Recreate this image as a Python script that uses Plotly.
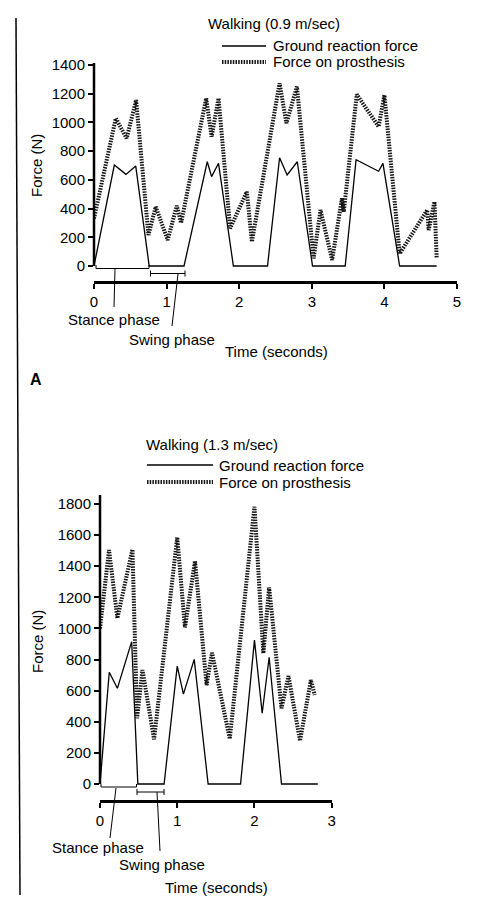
import plotly.graph_objects as go

W, H = 477, 898

# ---------------- data ----------------
# Panel A: walking 0.9 m/sec
top_grf_t = [0, 0.28, 0.44, 0.575, 0.76, 1.24, 1.56, 1.62, 1.715, 1.92, 2.39, 2.556, 2.66, 2.80, 3.01, 3.46, 3.61, 3.92, 3.98, 4.21, 4.72]
top_grf_f = [0, 703, 638, 696, 0, 0, 726, 622, 715, 0, 0, 754, 634, 726, 0, 0, 740, 660, 715, 0, 0]

top_pro_t = [0, 0.30, 0.45, 0.58, 0.75, 0.85, 1.015, 1.14, 1.20, 1.22, 1.545, 1.62, 1.715, 1.875, 2.105, 2.175,
             2.556, 2.65, 2.795, 3.025, 3.12, 3.28, 3.415, 3.44, 3.62, 3.92, 4.0, 4.21, 4.59, 4.61, 4.69, 4.72]
top_pro_f = [330, 1028, 889, 1156, 216, 413, 181, 420, 300, 350, 1168, 900, 1168, 262, 517, 169,
             1272, 994, 1249, 53, 390, 42, 471, 378, 1195, 970, 1190, 86, 390, 250, 448, 53]

# Panel B: walking 1.3 m/sec
bot_grf_t = [0, 0.12, 0.225, 0.41, 0.49, 0.83, 1.0, 1.08, 1.22, 1.40, 1.82, 2.0, 2.10, 2.19, 2.35, 2.82]
bot_grf_f = [0, 718, 615, 915, 0, 0, 758, 578, 801, 0, 0, 925, 455, 815, 0, 0]

bot_pro_t = [0, 0.117, 0.225, 0.42, 0.48, 0.55, 0.70, 1.0, 1.10, 1.23, 1.38, 1.45, 1.68, 2.0, 2.115, 2.19,
             2.35, 2.44, 2.59, 2.73, 2.78]
bot_pro_f = [1000, 1504, 1066, 1508, 423, 733, 287, 1586, 1007, 1433, 636, 844, 290, 1782, 840, 1264,
             487, 694, 278, 668, 572]

top_yticks = [0, 200, 400, 600, 800, 1000, 1200, 1400]
bot_yticks = [0, 200, 400, 600, 800, 1000, 1200, 1400, 1600, 1800]
top_xticks = [0, 1, 2, 3, 4, 5]
bot_xticks = [0, 1, 2, 3]

# ---------------- helpers ----------------
def px(x):
    return x / W

def py(y):
    return 1 - y / H

FONT = "Liberation Sans, Arial, Helvetica, sans-serif"
SOLID = dict(color="black", width=1.3)
DOTTED = dict(color="#151515", width=4, dash="1.5px,1.2px")

fig = go.Figure()
fig.add_trace(go.Scatter(x=top_grf_t, y=top_grf_f, mode="lines", line=SOLID, xaxis="x", yaxis="y", showlegend=False))
fig.add_trace(go.Scatter(x=top_pro_t, y=top_pro_f, mode="lines", line=DOTTED, xaxis="x", yaxis="y", showlegend=False))
fig.add_trace(go.Scatter(x=bot_grf_t, y=bot_grf_f, mode="lines", line=SOLID, xaxis="x2", yaxis="y2", showlegend=False))
fig.add_trace(go.Scatter(x=bot_pro_t, y=bot_pro_f, mode="lines", line=DOTTED, xaxis="x2", yaxis="y2", showlegend=False))

axis_common = dict(showgrid=False, zeroline=False, ticks="outside", ticklen=5, tickwidth=1.5, automargin=False,
                   tickcolor="black", tickfont=dict(family=FONT, size=15, color="black"))

# top panel: 0 N at py 266, 1400 at py 65, x-axis line at py 281
fig.update_layout(
    xaxis=dict(domain=[px(94), px(457)], range=[0, 5], tickvals=top_xticks, showline=True, linewidth=3,
               linecolor="black", anchor="y", **axis_common),
    yaxis=dict(domain=[py(281), py(60)], range=[-104.5, 1434.5], tickvals=top_yticks, showline=False,
               anchor="x", **axis_common),
    xaxis2=dict(domain=[px(100), px(331.7)], range=[0, 3], tickvals=bot_xticks, showline=True, linewidth=3,
                linecolor="black", anchor="y2", **axis_common),
    yaxis2=dict(domain=[py(800), py(492)], range=[-102.8, 1877], tickvals=bot_yticks, showline=False,
                anchor="x2", **axis_common),
)

shapes = []
def seg(x0, y0, x1, y1, w=1.0, dash=None, color="black"):
    ln = dict(color=color, width=w)
    if dash:
        ln["dash"] = dash
    shapes.append(dict(type="line", xref="paper", yref="paper", x0=px(x0), y0=py(y0), x1=px(x1), y1=py(y1), line=ln))

# page border line at left
seg(16, 18, 20, 895, w=1.5)
# y-axis lines (stop at 0 level)
seg(94, 266, 94, 63, w=2.5)
seg(100, 784, 100, 495, w=2.5)

# legends
seg(222, 46, 266, 46, w=1.3)
seg(222, 62, 266, 62, w=4, dash="1.5px,1.2px", color="#151515")
seg(147, 465, 213, 465, w=1.3)
seg(147, 482, 213, 482, w=4, dash="1.5px,1.2px", color="#151515")

# phase brackets (top)
seg(96, 268.5, 149, 268.5, w=1)
seg(96, 265, 96, 268.5, w=1)
seg(149, 265, 149, 268.5, w=1)
seg(150.5, 273.5, 185, 273.5, w=1)
seg(150.5, 270.5, 150.5, 276.5, w=1)
seg(185, 270.5, 185, 276.5, w=1)
seg(115, 269, 114, 307, w=1)
seg(178, 274, 172, 326, w=1)
# phase brackets (bottom)
seg(101, 787, 136.5, 787, w=1)
seg(101, 784, 101, 787, w=1)
seg(136.5, 784, 136.5, 787, w=1)
seg(137, 792, 164, 792, w=1)
seg(137, 789, 137, 795, w=1)
seg(164, 789, 164, 795, w=1)
seg(116, 788, 110, 838, w=1)
seg(157, 792, 160, 851, w=1)

annots = []
def txt(x, y, s, size=15, xanchor="center", angle=0, bold=False):
    annots.append(dict(x=px(x), y=py(y), xref="paper", yref="paper", text=("<b>%s</b>" % s) if bold else s,
                       showarrow=False, xanchor=xanchor, yanchor="middle", textangle=angle,
                       font=dict(family=FONT, size=size, color="black")))

txt(274, 24, "Walking (0.9 m/sec)")
txt(271, 46, "Ground reaction force", xanchor="left")
txt(271, 62, "Force on prosthesis", xanchor="left")
txt(36, 166, "Force (N)", angle=-90)
txt(114, 319, "Stance phase")
txt(172, 340, "Swing phase")
txt(276, 352, "Time (seconds)")
txt(36, 379, "A", size=16, bold=True)

txt(212, 444, "Walking (1.3 m/sec)")
txt(217, 465, "Ground reaction force", xanchor="left")
txt(217, 482, "Force on prosthesis", xanchor="left")
txt(37, 642, "Force (N)", angle=-90)
txt(98, 847, "Stance phase")
txt(162, 864, "Swing phase")
txt(216, 887, "Time (seconds)")

fig.update_layout(width=W, height=H, margin=dict(l=0, r=0, t=0, b=0, autoexpand=False), paper_bgcolor="white",
                  plot_bgcolor="white", shapes=shapes, annotations=annots, showlegend=False)

fig.write_html("out.html", config={"displayModeBar": False},
               post_script="document.body.style.margin='0';document.body.style.padding='0';document.body.style.overflow='hidden';")
